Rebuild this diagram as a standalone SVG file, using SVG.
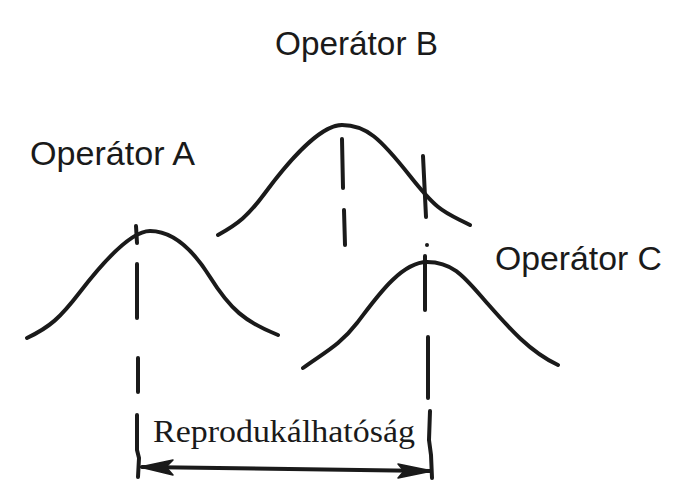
<svg xmlns="http://www.w3.org/2000/svg" width="674" height="502" viewBox="0 0 674 502">
<style>
.curve{fill:none;stroke:#1a1a1a;stroke-width:4;stroke-linecap:round;stroke-linejoin:round}
.dash{fill:none;stroke:#1a1a1a;stroke-width:4;stroke-linecap:round}
.lbl{font-family:"Liberation Sans",Arial,sans-serif;font-size:33px;fill:#1a1a1a}
.ser{font-family:"Liberation Serif","Times New Roman",serif;font-size:32px;fill:#1a1a1a}
.head{fill:#1a1a1a;stroke:#1a1a1a;stroke-width:1.5;stroke-linejoin:round}
</style>
<rect width="674" height="502" fill="#ffffff"/>
<g id="operator-b">
<text class="lbl" x="275" y="55" textLength="163" lengthAdjust="spacingAndGlyphs">Operátor B</text>
<path class="curve" d="M218,235 C238,224 248,216 265,193 S318,125 342,125 S380,138 410,176 S445,212 470,225"/>
</g>
<g id="operator-a">
<text class="lbl" x="30" y="165" textLength="165" lengthAdjust="spacingAndGlyphs">Operátor A</text>
<path class="curve" d="M27,338 C50,327 60,318 80,292 S130,231 150,231 S190,245 210,277 S245,322 278,335"/>
</g>
<g id="operator-c">
<text class="lbl" x="495" y="270" textLength="167" lengthAdjust="spacingAndGlyphs">Operátor C</text>
<path class="curve" d="M303,368 C325,352 340,345 357,323 S400,262 427,262 S465,278 487,303 S530,352 558,365"/>
</g>
<g id="reproducibility">
<text class="ser" x="153" y="442" textLength="262" lengthAdjust="spacingAndGlyphs">Reprodukálhatóság</text>
</g>
<g id="connectors">
<line class="dash" x1="136" y1="226" x2="137" y2="243" stroke-width="5"/>
<line class="dash" x1="137" y1="264" x2="137" y2="318"/>
<line class="dash" x1="138" y1="358" x2="138" y2="392"/>
<path class="dash" d="M137,415 L137,450 L139,458 L138,477"/>
<line class="dash" x1="342" y1="139" x2="343" y2="188"/>
<line class="dash" x1="344" y1="210" x2="345" y2="245"/>
<line class="dash" x1="423" y1="156" x2="426" y2="217"/>
<circle cx="427" cy="245" r="2" fill="#1a1a1a"/>
<line class="dash" x1="425" y1="256" x2="425" y2="310"/>
<line class="dash" x1="428" y1="337" x2="428" y2="398"/>
<path class="dash" d="M430,411 L429,440 L431,455 L432,478"/>
<line class="dash" x1="142" y1="467" x2="430" y2="471" stroke-width="3"/>
<polygon class="head" points="140,467 173,460 166,467 173,475"/>
<polygon class="head" points="432,471 398,464 404,471 398,478"/>
</g>
</svg>
